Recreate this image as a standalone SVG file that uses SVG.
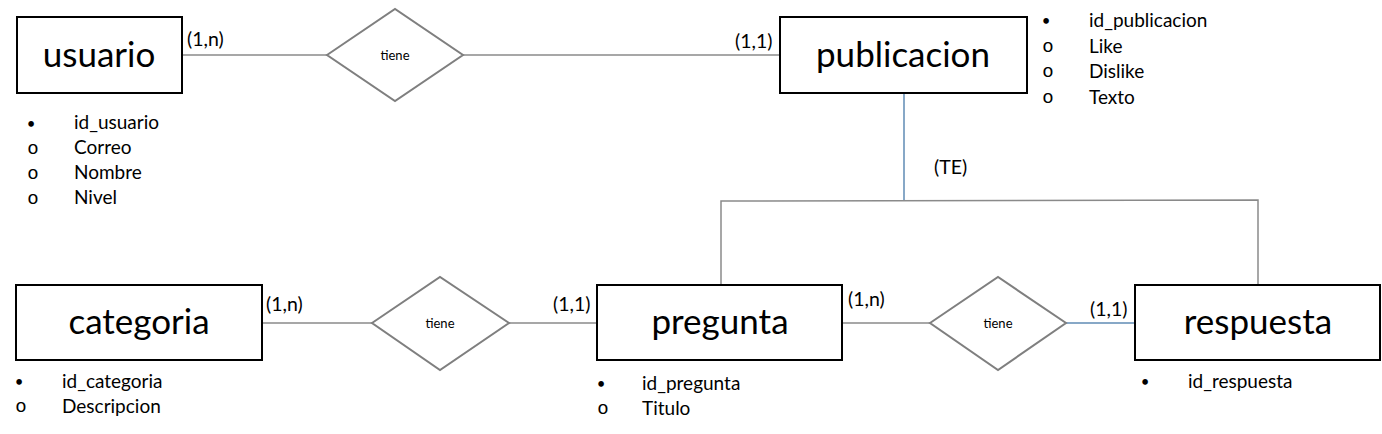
<svg xmlns="http://www.w3.org/2000/svg" width="1382" height="434" viewBox="0 0 1382 434">
<style>
.ent{fill:#fff;stroke:#000;stroke-width:2}
.rel{fill:#fff;stroke:#7f7f7f;stroke-width:2}
.en{font-family:Lato,"Open Sans",sans-serif;font-size:35px;fill:#000;text-anchor:middle}
.rn{font-family:Lato,"Open Sans",sans-serif;font-size:13px;fill:#000;text-anchor:middle}
.card{font-family:Lato,"Open Sans",sans-serif;font-size:19.5px;fill:#000}
.at{font-family:Lato,"Open Sans",sans-serif;font-size:19px;fill:#000}
.bu{font-family:Lato,"Open Sans",sans-serif;font-size:15px;fill:#000;text-anchor:middle}
.ci{font-family:"Liberation Mono",monospace;font-size:19px;fill:#000;text-anchor:middle}
.ln{stroke:#8a8a8a;stroke-width:1.5;fill:none}
.bl{stroke:#5f8bb5;stroke-width:1.5;fill:none}
</style>
<rect width="1382" height="434" fill="#fff"/>
<g id="connectors">
<line class="ln" x1="182" y1="55" x2="327" y2="55"/>
<line class="ln" x1="463" y1="55" x2="780" y2="55"/>
<line class="bl" x1="904" y1="93" x2="904" y2="201"/>
<polyline class="ln" points="721,285 721,201 1258,200 1258,285"/>
<line class="ln" x1="262" y1="323" x2="372" y2="323"/>
<line class="ln" x1="509" y1="323" x2="597" y2="323"/>
<line class="ln" x1="842" y1="323" x2="930" y2="323"/>
<line class="bl" x1="1066" y1="323" x2="1135" y2="323"/>
<text class="card" x="187" y="46">(1,n)</text>
<text class="card" x="735" y="48">(1,1)</text>
<text class="card" x="934" y="174">(TE)</text>
<text class="card" x="266" y="311">(1,n)</text>
<text class="card" x="553" y="311">(1,1)</text>
<text class="card" x="848" y="306">(1,n)</text>
<text class="card" x="1090" y="316">(1,1)</text>
</g>
<g id="usuario">
<rect class="ent" x="17" y="17" width="165" height="76"/>
<text class="en" x="99" y="67">usuario</text>
<text class="bu" x="31" y="129">•</text><text class="at" x="74" y="129">id_usuario</text>
<text class="ci" x="33" y="154">o</text><text class="at" x="74" y="154">Correo</text>
<text class="ci" x="33" y="179">o</text><text class="at" x="74" y="179">Nombre</text>
<text class="ci" x="33" y="204">o</text><text class="at" x="74" y="204">Nivel</text>
</g>
<g id="rel-usuario-publicacion">
<polygon class="rel" points="327,55 395,9 463,55 395,101"/>
<text class="rn" x="395" y="60">tiene</text>
</g>
<g id="publicacion">
<rect class="ent" x="780" y="17" width="247" height="76"/>
<text class="en" x="903" y="67">publicacion</text>
<text class="bu" x="1046" y="26">•</text><text class="at" x="1089" y="27">id_publicacion</text>
<text class="ci" x="1048" y="52">o</text><text class="at" x="1089" y="53">Like</text>
<text class="ci" x="1048" y="77">o</text><text class="at" x="1089" y="78">Dislike</text>
<text class="ci" x="1048" y="103">o</text><text class="at" x="1089" y="104">Texto</text>
</g>
<g id="categoria">
<rect class="ent" x="16" y="285" width="246" height="75"/>
<text class="en" x="139" y="334">categoria</text>
<text class="bu" x="19" y="387">•</text><text class="at" x="62" y="388">id_categoria</text>
<text class="ci" x="21" y="412">o</text><text class="at" x="62" y="413">Descripcion</text>
</g>
<g id="rel-categoria-pregunta">
<polygon class="rel" points="372,323 440,277 509,323 440,370"/>
<text class="rn" x="440" y="328">tiene</text>
</g>
<g id="pregunta">
<rect class="ent" x="597" y="285" width="245" height="75"/>
<text class="en" x="720" y="334">pregunta</text>
<text class="bu" x="601" y="389">•</text><text class="at" x="642" y="390">id_pregunta</text>
<text class="ci" x="603" y="414">o</text><text class="at" x="642" y="415">Titulo</text>
</g>
<g id="rel-pregunta-respuesta">
<polygon class="rel" points="930,323 998,277 1066,323 998,370"/>
<text class="rn" x="998" y="328">tiene</text>
</g>
<g id="respuesta">
<rect class="ent" x="1135" y="285" width="245" height="75"/>
<text class="en" x="1258" y="334">respuesta</text>
<text class="bu" x="1145" y="387">•</text><text class="at" x="1188" y="388">id_respuesta</text>
</g>
</svg>
